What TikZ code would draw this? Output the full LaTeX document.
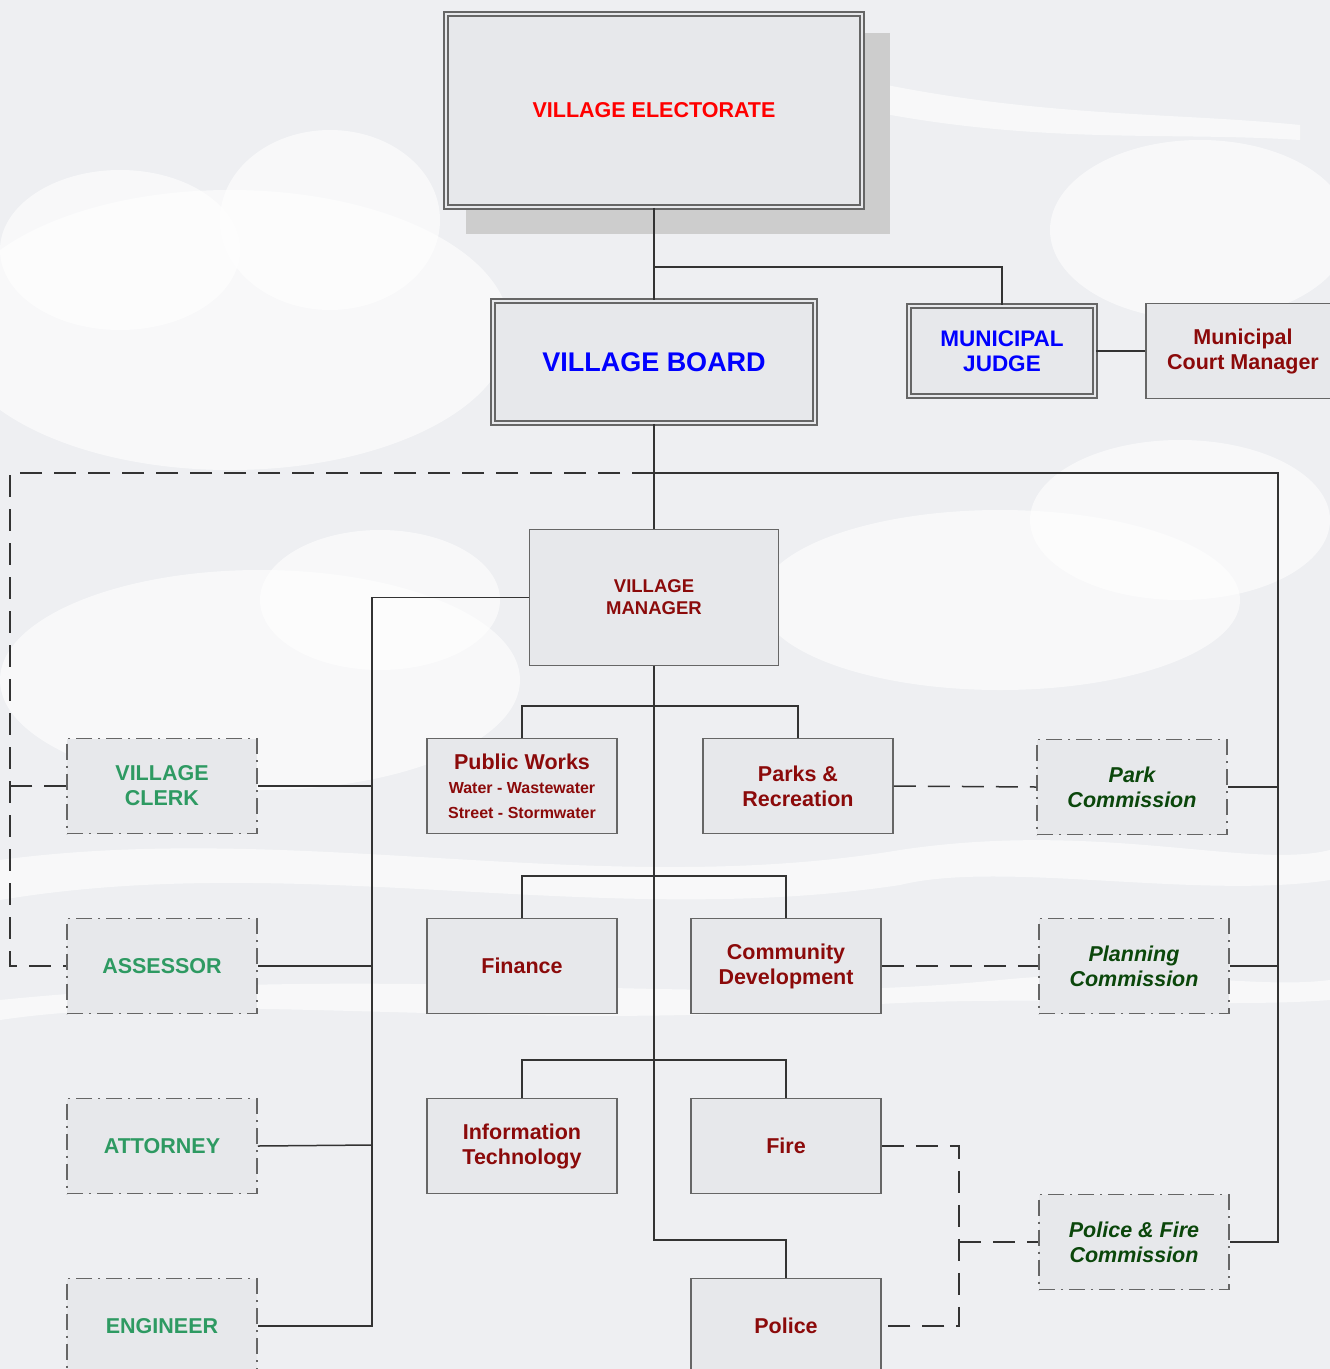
\documentclass[tikz,border=0pt]{standalone}
\usepackage{fontspec}
\setmainfont{Liberation Sans}
\definecolor{bgc}{HTML}{EEEFF2}
\definecolor{boxfill}{HTML}{E7E8EB}
\definecolor{boxgray}{HTML}{666666}
\definecolor{lineclr}{HTML}{333333}
\definecolor{dred}{HTML}{8B0A0A}
\definecolor{cgreen}{HTML}{2E9A62}
\definecolor{dgreen}{HTML}{0B470B}
\definecolor{shadowc}{HTML}{CDCDCD}
\tikzset{
  box/.style={draw=boxgray, line width=1.5pt, fill=boxfill, inner sep=0pt, align=center,
    minimum width=190pt, minimum height=95pt,
    font=\fontsize{21.5}{25}\selectfont\bfseries, text=dred},
  dbox/.style={box, double=boxfill, double distance=2.5pt, line width=1.6pt},
  cbox/.style={box, dash pattern=on 16pt off 6pt on 2pt off 6pt, text=cgreen},
  comm/.style={cbox, text=dgreen, font=\fontsize{21.5}{25}\selectfont\bfseries\itshape},
  conn/.style={draw=lineclr, line width=1.5pt},
  dconn/.style={conn, dash pattern=on 22pt off 12pt},
  cloud/.style={fill=white, opacity=0.6}
}
\begin{document}
\begin{tikzpicture}[x=1pt,y=-1pt]
\useasboundingbox (0,0) rectangle (1330,1369);
\clip (0,0) rectangle (1330,1369);
\fill[bgc] (0,0) rectangle (1330,1369);
% soft cloud background
\fill[cloud] (230,330) ellipse [x radius=280, y radius=140];
\fill[cloud] (330,220) ellipse [x radius=110, y radius=90];
\fill[cloud] (120,250) ellipse [x radius=120, y radius=80];
\fill[cloud] (260,680) ellipse [x radius=260, y radius=110];
\fill[cloud] (380,600) ellipse [x radius=120, y radius=70];
\fill[cloud] (1200,230) ellipse [x radius=150, y radius=90];
\fill[cloud] (1000,600) ellipse [x radius=240, y radius=90];
\fill[cloud] (1180,520) ellipse [x radius=150, y radius=80];
\fill[cloud] (0,860) .. controls (300,820) and (600,900) .. (900,850) .. controls (1100,820) and (1250,870) .. (1330,850)
  -- (1330,880) .. controls (1200,900) and (1000,860) .. (900,885) .. controls (600,930) and (300,850) .. (0,900) -- cycle;
\fill[cloud] (0,1000) .. controls (400,960) and (700,1010) .. (1000,980) .. controls (1150,965) and (1250,990) .. (1330,980)
  -- (1330,1000) .. controls (1200,1010) and (1000,990) .. (800,1010) .. controls (500,1030) and (200,990) .. (0,1020) -- cycle;
\fill[cloud] (780,60) .. controls (1000,120) and (1150,110) .. (1300,125) -- (1300,140) .. controls (1150,130) and (1000,150) .. (780,90) -- cycle;

% shadow of top box
\fill[shadowc] (466,33) rectangle (890,234);

% nodes
\node[dbox, minimum width=416pt, minimum height=193pt, text=red,
      font=\fontsize{21.5}{24}\selectfont\bfseries] (elect) at (654,110.5) {VILLAGE ELECTORATE};
\node[dbox, minimum width=322pt, minimum height=122pt, text=blue,
      font=\fontsize{27}{30}\selectfont\bfseries] (board) at (654,362) {VILLAGE BOARD};
\node[dbox, minimum width=186pt, minimum height=90pt, text=blue,
      font=\fontsize{22.5}{25}\selectfont\bfseries] (judge) at (1002,351) {MUNICIPAL\\JUDGE};
\node[box, minimum width=194pt, minimum height=95pt] (court) at (1243,351) {Municipal\\Court Manager};
\node[box, minimum width=249pt, minimum height=136pt,
      font=\fontsize{18.5}{22}\selectfont\bfseries] (vm) at (654,597.5) {VILLAGE\\MANAGER};

\node[box] (pw) at (522,786) {Public Works\\[-1pt]{\fontsize{16}{24}\selectfont Water - Wastewater}\\{\fontsize{16}{24}\selectfont Street - Stormwater}};
\node[box] (parks) at (798,786) {Parks \&\\Recreation};
\node[box] (fin) at (522,966) {Finance};
\node[box] (cd) at (786,966) {Community\\Development};
\node[box] (it) at (522,1146) {Information\\Technology};
\node[box] (fire) at (786,1146) {Fire};
\node[box] (police) at (786,1326) {Police};

\node[cbox] (clerk) at (162,786) {VILLAGE\\CLERK};
\node[cbox] (assess) at (162,966) {ASSESSOR};
\node[cbox] (atty) at (162,1146) {ATTORNEY};
\node[cbox] (eng) at (162,1326) {ENGINEER};

\node[comm] (pc) at (1132,787) {Park\\Commission};
\node[comm] (plc) at (1134,966) {Planning\\Commission};
\node[comm] (pfc) at (1134,1242) {Police \& Fire\\Commission};

% bus coordinates
\coordinate (j1) at (654,267);
\coordinate (h1) at (654,473);
\coordinate (rbus) at (1278,1242);
\coordinate (lbus) at (10,966);
\coordinate (mbus) at (372,1326);
\coordinate (b1) at (654,706);
\coordinate (b2) at (654,876);
\coordinate (b3) at (654,1060);
\coordinate (b4) at (654,1240);
\coordinate (fbus) at (959,1242);

% solid connectors
\draw[conn] (elect.south) -- (board.north);
\draw[conn] (j1) -| (judge.north);
\draw[conn] (judge.east) -- (court.west);
\draw[conn] (board.south) -- (vm.north);
\draw[conn] (h1) -| (rbus) -- (pfc.east);
\draw[conn] (pc.east) -- (pc.east -| rbus);
\draw[conn] (plc.east) -- (plc.east -| rbus);
\draw[conn] (vm.west) -| (mbus) -- (eng.east);
\draw[conn] (clerk.east) -- (clerk.east -| mbus);
\draw[conn] (assess.east) -- (assess.east -| mbus);
\draw[conn] (atty.east) -- (372,1145);
\draw[conn] (vm.south) -- (b4) -| (police.north);
\draw[conn] (pw.north) |- (b1) -| (parks.north);
\draw[conn] (fin.north) |- (b2) -| (cd.north);
\draw[conn] (it.north) |- (b3) -| (fire.north);

% dashed connectors
\draw[dconn] (h1) -| (lbus) -- (assess.west);
\draw[dconn] (clerk.west) -- (clerk.west -| lbus);
\draw[dconn] (parks.east) -- (pc.west);
\draw[dconn] (cd.east) -- (plc.west);
\draw[dconn] (fire.east) -| (fbus) |- (police.east);
\draw[dconn] (fbus) -- (pfc.west);
\end{tikzpicture}
\end{document}
